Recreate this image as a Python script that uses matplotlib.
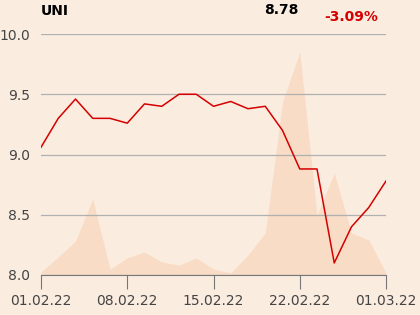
import matplotlib
matplotlib.use("Agg")
import matplotlib.pyplot as plt
import numpy as np

dates = ["01.02.22", "02.02.22", "03.02.22", "04.02.22", "07.02.22", "08.02.22", "09.02.22",
         "10.02.22", "11.02.22", "14.02.22", "15.02.22", "16.02.22", "17.02.22", "18.02.22",
         "21.02.22", "22.02.22", "23.02.22", "24.02.22", "25.02.22", "28.02.22", "01.03.22"]
price = [9.06, 9.30, 9.46, 9.30, 9.30, 9.26, 9.42, 9.40, 9.50, 9.50, 9.40,
         9.44, 9.38, 9.40, 9.20, 8.88, 8.88, 8.10, 8.40, 8.56, 8.78]
volume = [3, 18, 34, 76, 6, 17, 23, 13, 10, 17, 6,
          2, 20, 42, 173, 223, 60, 102, 42, 35, 2]
tick_labels = ["01.02.22", "08.02.22", "15.02.22", "22.02.22", "01.03.22"]
yticks = [8.0, 8.5, 9.0, 9.5, 10.0]
title = "UNI"
last_value = "8.78"
change = "-3.09%"

bg = "#FBECE0"
fill_c = "#F8DCC6"
line_c = "#D40000"

fig = plt.figure(figsize=(4.2, 3.15), dpi=100, facecolor=bg)
W, H = 420, 315
x0, x1 = 41, 386
y_top, y_bot = 34, 275
ax = fig.add_axes([x0 / W, 1 - y_bot / H, (x1 - x0) / W, (y_bot - y_top) / H])
ax.set_facecolor(bg)
x = np.arange(len(dates))

axv = ax.twinx()
axv.fill_between(x, 0, volume, color=fill_c, lw=0)
axv.set_ylim(0, 241)
axv.axis("off")
ax.set_zorder(axv.get_zorder() + 1)
ax.patch.set_visible(False)
axv.patch.set_visible(False)
fig.patch.set_facecolor(bg)

ax.plot(x, price, color=line_c, lw=1.1, zorder=3)
ax.set_xlim(0, len(dates) - 1)
ax.set_ylim(8.0, 10.0)
ax.set_yticks(yticks)
ax.set_yticklabels([f"{v:.1f}" for v in yticks])
ax.grid(axis="y", color="#B0B0B0", lw=0.9)
ax.set_axisbelow(True)
tick_pos = [dates.index(t) for t in tick_labels]
ax.set_xticks(tick_pos)
ax.set_xticklabels(tick_labels)
for s in ["top", "right", "left"]:
    ax.spines[s].set_visible(False)
ax.spines["bottom"].set_color("#777777")
ax.tick_params(axis="x", length=10, color="#777777", labelsize=10, labelcolor="#444444", pad=4)
ax.tick_params(axis="y", length=0, labelsize=10, labelcolor="#444444", pad=8)

fig.text(41 / W, 1 - 11 / H, title, fontsize=10, fontweight="bold", ha="left", va="center", color="#000000")
fig.text(281 / W, 1 - 10 / H, last_value, fontsize=10, fontweight="bold", ha="center", va="center", color="#000000")
fig.text(351 / W, 1 - 17 / H, change, fontsize=10, fontweight="bold", ha="center", va="center", color=line_c)

fig.savefig("out.png", dpi=100, facecolor=bg)
